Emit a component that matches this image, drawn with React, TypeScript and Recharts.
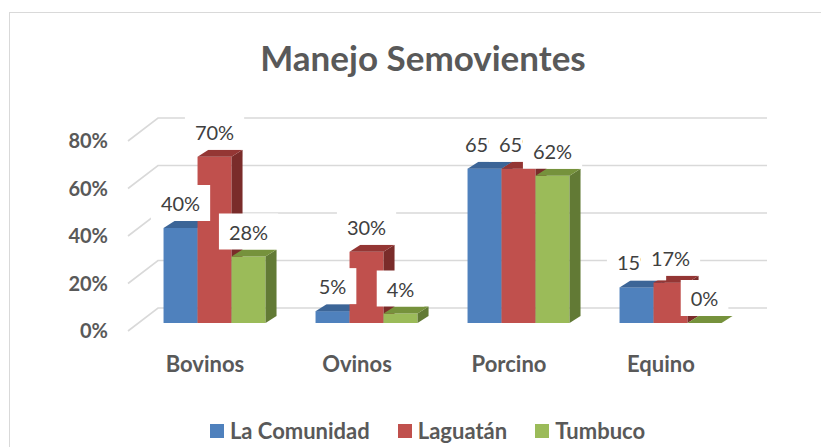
import React from 'react';
import { BarChart, Bar, XAxis, YAxis, CartesianGrid, LabelList } from 'recharts';

const categories = ['Bovinos', 'Ovinos', 'Porcino', 'Equino'];
const laComunidad = [40, 5, 65, 15];
const laguatan = [70, 30, 65, 17];
const tumbuco = [28, 4, 62, 0];
const seriesNames = ['La Comunidad', 'Laguatán', 'Tumbuco'];
const yTicks = [0, 20, 40, 60, 80];
const title = 'Manejo Semovientes';

const data = categories.map((c, i) => ({
  name: c,
  s0: laComunidad[i],
  s1: laguatan[i],
  s2: tumbuco[i],
}));

const palette = [
  { front: '#4F81BD', top: '#3C6597', side: '#385D8A' },
  { front: '#C0504D', top: '#943634', side: '#7A2C2A' },
  { front: '#9BBB59', top: '#76923C', side: '#627A35' },
];

const FONT = 'Lato, "Noto Sans", sans-serif';
const DX = 11;
const DY = -7;

const make3D = (front: string, top: string, side: string) => (p: any) => {
  const x = Number(p.x);
  const y = Number(p.y);
  const w = Number(p.width);
  const h = Math.max(Number(p.height) || 0, 0);
  return (
    <g>
      <rect x={x} y={y} width={w} height={h} fill={front} />
      <polygon
        points={`${x + w},${y} ${x + w + DX},${y + DY} ${x + w + DX},${y + h + DY} ${x + w},${y + h}`}
        fill={side}
      />
      <polygon
        points={`${x},${y} ${x + DX},${y + DY} ${x + w + DX},${y + DY} ${x + w},${y}`}
        fill={top}
      />
    </g>
  );
};

let ctx: CanvasRenderingContext2D | null = null;
const measure = (t: string, font: string) => {
  try {
    if (!ctx) ctx = document.createElement('canvas').getContext('2d');
    if (ctx) {
      ctx.font = font;
      return ctx.measureText(t).width;
    }
  } catch (e) {}
  return t.length * 12;
};

const renderLabel = (props: any) => {
  const vb = props.viewBox && props.viewBox.width !== undefined ? props.viewBox : props;
  const x = Number(vb.x);
  const y = Number(vb.y);
  const w = Number(vb.width);
  const txt = `${props.value}%`;
  const tw = measure(txt, `20px ${FONT}`);
  const bw = tw + 20;
  const bh = 36;
  const cx = x + w / 2;
  const bottom = y + DY;
  return (
    <g>
      <rect x={cx - bw / 2} y={bottom - bh} width={bw} height={bh} fill="#ffffff" />
      <text
        x={cx}
        y={bottom - bh / 2}
        textAnchor="middle"
        dominantBaseline="central"
        fontFamily={FONT}
        fontSize={20}
        fill="#404040"
      >
        {txt}
      </text>
    </g>
  );
};

const gridLine = (p: any) => {
  const x1 = Number(p.x1);
  const y1 = Number(p.y1);
  const x2 = Number(p.x2);
  const d = `M${x1 - 10},${y1 + 8} L${x1 + 20},${y1 - 15} L${x2 + 21},${y1 - 15}`;
  return <path key={`g-${p.index}-${y1}`} d={d} stroke="#d9d9d9" strokeWidth={1.6} fill="none" />;
};

const YTick = (p: any) => (
  <text
    x={108}
    y={Number(p.y) + 7}
    textAnchor="end"
    dominantBaseline="central"
    fontFamily={FONT}
    fontWeight={700}
    fontSize={20}
    fill="#595959"
  >
    {`${p.payload.value}%`}
  </text>
);

const XTick = (p: any) => (
  <text
    x={Number(p.x) - 9}
    y={Number(p.y) + 32}
    textAnchor="middle"
    dominantBaseline="central"
    fontFamily={FONT}
    fontWeight={700}
    fontSize={22}
    fill="#595959"
  >
    {p.payload.value}
  </text>
);

export default function App() {
  return (
    <div
      style={{
        position: 'absolute',
        left: 0,
        top: 0,
        width: 821,
        height: 447,
        background: '#ffffff',
        overflow: 'hidden',
      }}
    >
      <div
        style={{
          position: 'absolute',
          left: 9,
          top: 12,
          width: 900,
          height: 600,
          border: '1.5px solid #d9d9d9',
          boxSizing: 'border-box',
        }}
      />
      <div
        style={{
          position: 'absolute',
          left: 0,
          top: 34,
          width: 846,
          textAlign: 'center',
          fontFamily: FONT,
          fontWeight: 700,
          fontSize: 35,
          lineHeight: '46px',
          color: '#595959',
        }}
      >
        {title}
      </div>
      <div style={{ position: 'absolute', left: 0, top: 0 }}>
        <BarChart
          width={821}
          height={447}
          data={data}
          margin={{ top: 133, right: 75, bottom: 94, left: 108 }}
          barGap={0}
          barCategoryGap="16.8%"
        >
          <CartesianGrid vertical={false} horizontal={gridLine} />
          <XAxis
            dataKey="name"
            height={30}
            axisLine={false}
            tickLine={false}
            tick={XTick}
            interval={0}
          />
          <YAxis
            width={30}
            domain={[0, 80]}
            ticks={yTicks}
            interval={0}
            axisLine={false}
            tickLine={false}
            tick={YTick}
          />
          {palette.map((c, i) => (
            <Bar
              key={i}
              dataKey={`s${i}`}
              name={seriesNames[i]}
              fill={c.front}
              isAnimationActive={false}
              shape={make3D(c.front, c.top, c.side)}
            >
              <LabelList dataKey={`s${i}`} content={renderLabel} />
            </Bar>
          ))}
        </BarChart>
      </div>
      <div
        style={{
          position: 'absolute',
          left: 0,
          top: 419,
          width: 855,
          display: 'flex',
          justifyContent: 'center',
          alignItems: 'center',
          fontFamily: FONT,
          fontWeight: 700,
          fontSize: 22,
          color: '#595959',
          lineHeight: '24px',
        }}
      >
        {seriesNames.map((n, i) => (
          <div key={n} style={{ display: 'flex', alignItems: 'center', marginRight: i < 2 ? 28 : 0 }}>
            <div style={{ width: 14, height: 14, background: palette[i].front, marginRight: 6 }} />
            <span>{n}</span>
          </div>
        ))}
      </div>
    </div>
  );
}
